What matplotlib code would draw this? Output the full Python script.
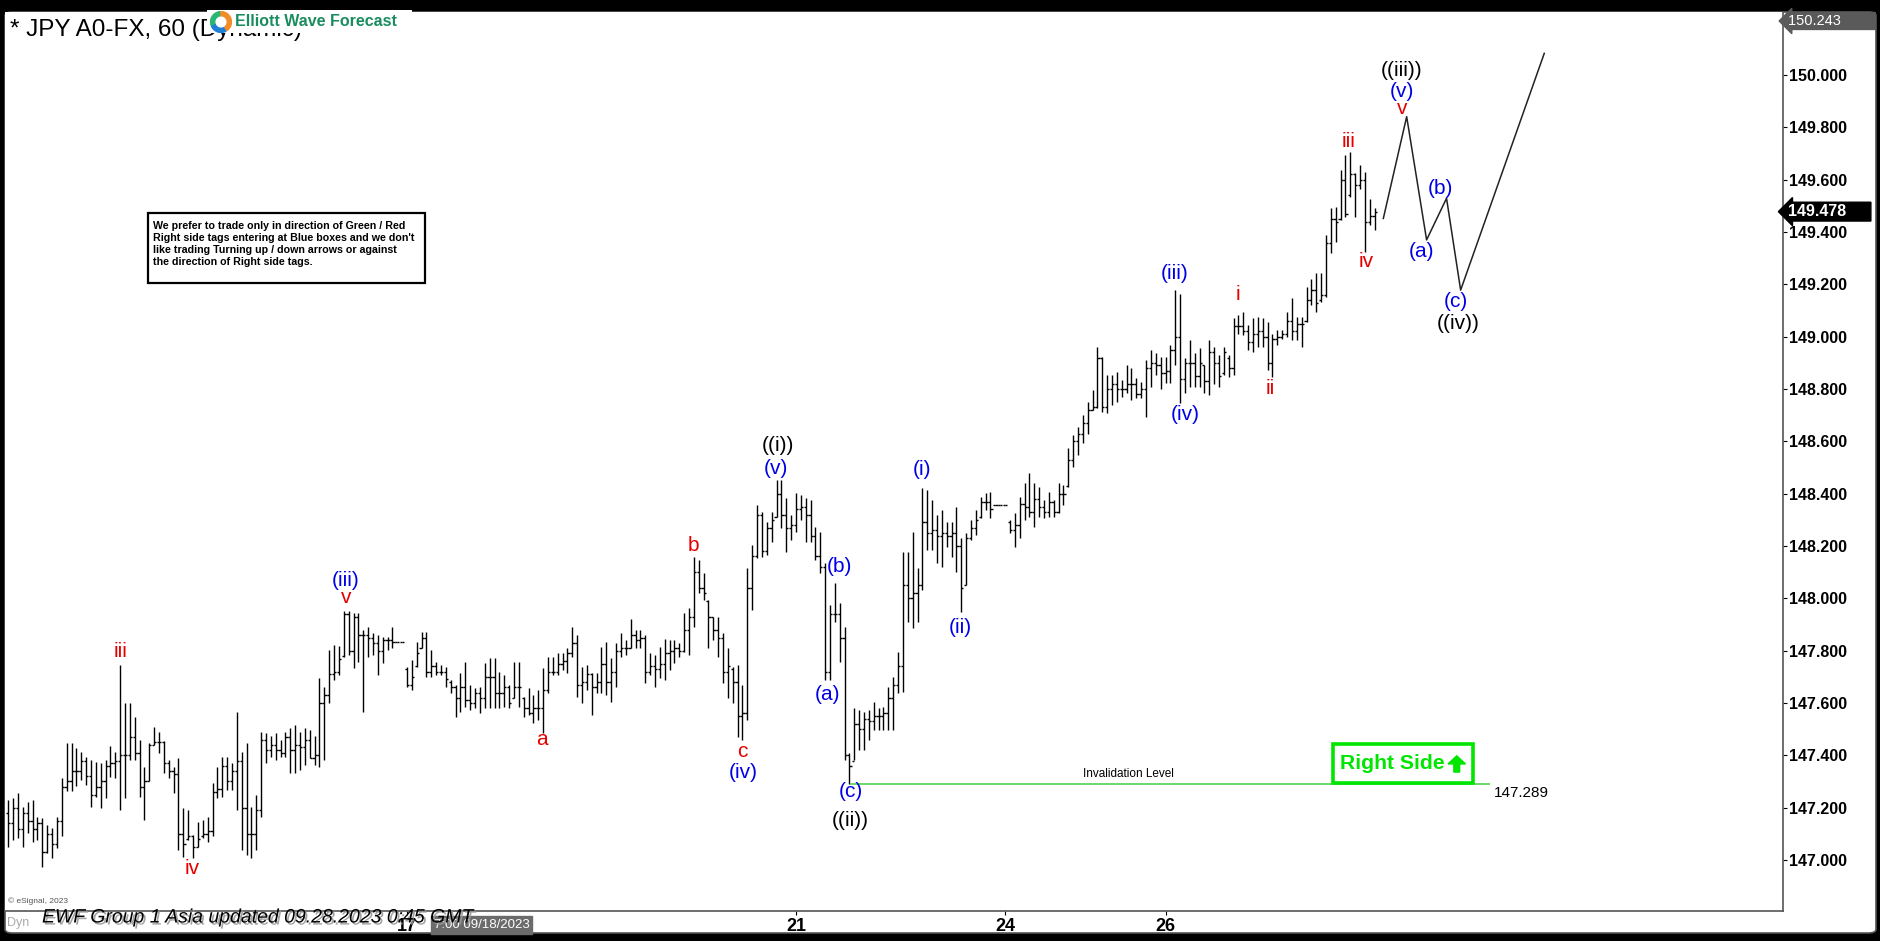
import matplotlib
matplotlib.use("Agg")
import matplotlib.pyplot as plt
from matplotlib.patches import Rectangle, FancyBboxPatch, FancyArrow, Wedge
import matplotlib.patheffects as pe

plt.rcParams['font.family'] = ['Liberation Sans', 'DejaVu Sans']

# hourly OHLC bars (bar index 0 .. 281)
highs = [
    147.230, 147.236, 147.255, 147.204, 147.223, 147.230, 147.166, 147.160, 147.134, 147.121,
    147.166, 147.313, 147.446, 147.446, 147.427, 147.411, 147.395, 147.383, 147.376, 147.370,
    147.383, 147.434, 147.414, 147.746, 147.599, 147.599, 147.548, 147.459, 147.357, 147.446,
    147.510, 147.491, 147.453, 147.383, 147.357, 147.389, 147.198, 147.191, 147.096, 147.147,
    147.153, 147.166, 147.296, 147.357, 147.395, 147.395, 147.370, 147.567, 147.414, 147.446,
    147.204, 147.249, 147.491, 147.485, 147.472, 147.485, 147.459, 147.491, 147.504, 147.516,
    147.491, 147.504, 147.497, 147.472, 147.695, 147.663, 147.803, 147.822, 147.816, 147.950,
    147.950, 147.943, 147.943, 147.879, 147.892, 147.867, 147.860, 147.854, 147.854, 147.892,
    147.835, 147.835, 147.739, 147.765, 147.835, 147.873, 147.873, 147.803, 147.758, 147.746,
    147.739, 147.688, 147.669, 147.714, 147.758, 147.669, 147.657, 147.663, 147.752, 147.771,
    147.771, 147.720, 147.707, 147.669, 147.758, 147.758, 147.624, 147.656, 147.631, 147.650,
    147.732, 147.777, 147.777, 147.790, 147.790, 147.809, 147.892, 147.860, 147.739, 147.745,
    147.713, 147.713, 147.815, 147.834, 147.771, 147.828, 147.866, 147.841, 147.920, 147.879,
    147.879, 147.860, 147.790, 147.783, 147.815, 147.843, 147.841, 147.841, 147.831, 147.943,
    147.962, 148.159, 148.147, 148.095, 147.994, 147.930, 147.930, 147.866, 147.809, 147.739,
    147.745, 147.669, 148.115, 148.204, 148.357, 148.331, 148.293, 148.331, 148.452, 148.452,
    148.382, 148.318, 148.401, 148.395, 148.382, 148.376, 148.274, 148.255, 148.134, 147.975,
    148.057, 147.981, 147.892, 147.408, 147.580, 147.573, 147.567, 147.573, 147.605, 147.580,
    147.586, 147.662, 147.701, 147.796, 148.178, 148.178, 148.255, 148.115, 148.420, 148.414,
    148.376, 148.318, 148.338, 148.293, 148.293, 148.350, 148.229, 148.248, 148.299, 148.337,
    148.388, 148.401, 148.407, 148.357, 148.357, 148.357, 148.299, 148.325, 148.388, 148.439,
    148.478, 148.439, 148.427, 148.376, 148.407, 148.376, 148.439, 148.433, 148.573, 148.624,
    148.656, 148.700, 148.751, 148.796, 148.962, 148.923, 148.853, 148.853, 148.866, 148.834,
    148.892, 148.879, 148.841, 148.828, 148.911, 148.949, 148.936, 148.923, 148.923, 148.968,
    149.178, 149.165, 148.917, 148.987, 148.936, 148.955, 148.891, 148.987, 148.961, 148.929,
    148.961, 148.929, 149.070, 149.082, 149.095, 149.044, 149.070, 149.076, 149.070, 149.057,
    149.012, 149.025, 149.025, 149.095, 149.146, 149.076, 149.076, 149.191, 149.222, 149.242,
    149.242, 149.388, 149.490, 149.496, 149.636, 149.694, 149.707, 149.624, 149.656, 149.630,
    149.528, 149.490,
]
lows = [
    147.051, 147.077, 147.083, 147.051, 147.102, 147.070, 147.077, 146.975, 147.026, 147.007,
    147.045, 147.090, 147.262, 147.262, 147.281, 147.306, 147.287, 147.204, 147.242, 147.198,
    147.236, 147.319, 147.313, 147.191, 147.236, 147.383, 147.383, 147.242, 147.153, 147.300,
    147.440, 147.408, 147.332, 147.313, 147.255, 147.039, 147.013, 147.077, 147.007, 147.051,
    147.083, 147.070, 147.090, 147.236, 147.242, 147.268, 147.268, 147.191, 147.039, 147.020,
    147.007, 147.039, 147.166, 147.370, 147.395, 147.383, 147.395, 147.395, 147.332, 147.332,
    147.344, 147.364, 147.389, 147.364, 147.357, 147.383, 147.599, 147.688, 147.707, 147.777,
    147.784, 147.733, 147.758, 147.567, 147.777, 147.784, 147.707, 147.752, 147.803, 147.809,
    147.835, 147.835, 147.663, 147.650, 147.739, 147.809, 147.701, 147.701, 147.707, 147.707,
    147.663, 147.637, 147.548, 147.567, 147.586, 147.574, 147.580, 147.561, 147.580, 147.580,
    147.580, 147.580, 147.586, 147.580, 147.618, 147.586, 147.548, 147.554, 147.522, 147.535,
    147.484, 147.637, 147.707, 147.707, 147.726, 147.713, 147.777, 147.624, 147.599, 147.650,
    147.554, 147.637, 147.637, 147.631, 147.605, 147.662, 147.777, 147.783, 147.809, 147.809,
    147.809, 147.675, 147.707, 147.662, 147.694, 147.688, 147.726, 147.752, 147.777, 147.796,
    147.783, 147.892, 148.019, 147.994, 147.809, 147.841, 147.777, 147.675, 147.618, 147.599,
    147.471, 147.459, 147.535, 147.955, 148.153, 148.159, 148.166, 148.217, 148.312, 148.268,
    148.178, 148.223, 148.255, 148.299, 148.217, 148.217, 148.146, 148.095, 147.688, 147.688,
    147.911, 147.758, 147.382, 147.289, 147.382, 147.420, 147.420, 147.459, 147.497, 147.497,
    147.497, 147.497, 147.497, 147.637, 147.643, 147.911, 147.885, 147.911, 148.032, 148.185,
    148.185, 148.134, 148.121, 148.197, 148.159, 148.102, 147.949, 148.051, 148.223, 148.242,
    148.306, 148.337, 148.306, 148.357, 148.357, 148.357, 148.248, 148.197, 148.229, 148.299,
    148.312, 148.274, 148.312, 148.306, 148.312, 148.312, 148.325, 148.357, 148.427, 148.503,
    148.548, 148.592, 148.630, 148.720, 148.726, 148.713, 148.707, 148.739, 148.751, 148.771,
    148.783, 148.758, 148.764, 148.764, 148.694, 148.809, 148.853, 148.802, 148.822, 148.822,
    148.892, 148.745, 148.783, 148.808, 148.808, 148.808, 148.783, 148.777, 148.821, 148.808,
    148.853, 148.847, 148.853, 149.012, 149.006, 148.949, 148.942, 148.961, 148.961, 148.872,
    148.847, 148.968, 148.993, 149.000, 148.987, 148.987, 148.961, 149.057, 149.121, 149.095,
    149.133, 149.152, 149.318, 149.363, 149.445, 149.458, 149.535, 149.458, 149.566, 149.324,
    149.426, 149.407,
]
opens = [
    147.18, 147.14, 147.20, 147.12, 147.18, 147.15, 147.12, 147.14, 147.03, 147.10,
    147.06, 147.15, 147.28, 147.30, 147.34, 147.34, 147.38, 147.32, 147.25, 147.28,
    147.30, 147.36, 147.37, 147.38, 147.40, 147.40, 147.47, 147.41, 147.28, 147.30,
    147.44, 147.45, 147.45, 147.37, 147.34, 147.33, 147.10, 147.08, 147.09, 147.05,
    147.09, 147.10, 147.11, 147.26, 147.27, 147.36, 147.30, 147.34, 147.38, 147.20,
    147.10, 147.10, 147.19, 147.46, 147.42, 147.44, 147.42, 147.41, 147.47, 147.42,
    147.44, 147.43, 147.46, 147.39, 147.40, 147.60, 147.63, 147.71, 147.72, 147.78,
    147.94, 147.80, 147.93, 147.86, 147.86, 147.85, 147.83, 147.80, 147.84, 147.84,
    147.835, 147.835, 147.73, 147.67, 147.74, 147.81, 147.85, 147.72, 147.74, 147.72,
    147.72, 147.68, 147.66, 147.62, 147.66, 147.61, 147.60, 147.64, 147.62, 147.70,
    147.70, 147.64, 147.64, 147.66, 147.62, 147.66, 147.62, 147.58, 147.56, 147.58,
    147.58, 147.65, 147.72, 147.72, 147.75, 147.76, 147.79, 147.83, 147.67, 147.68,
    147.71, 147.66, 147.68, 147.75, 147.68, 147.72, 147.80, 147.81, 147.81, 147.86,
    147.84, 147.85, 147.72, 147.74, 147.73, 147.75, 147.79, 147.80, 147.81, 147.80,
    147.88, 147.93, 148.10, 148.04, 147.99, 147.93, 147.88, 147.85, 147.72, 147.73,
    147.68, 147.55, 147.56, 148.04, 148.16, 148.32, 148.18, 148.27, 148.31, 148.40,
    148.32, 148.27, 148.28, 148.34, 148.35, 148.32, 148.24, 148.16, 148.12, 147.72,
    147.94, 147.94, 147.85, 147.40, 147.38, 147.52, 147.50, 147.54, 147.53, 147.55,
    147.55, 147.56, 147.62, 147.67, 147.74, 148.05, 148.00, 148.02, 148.05, 148.29,
    148.25, 148.26, 148.24, 148.25, 148.24, 148.25, 148.20, 148.05, 148.23, 148.27,
    148.31, 148.37, 148.37, 148.357, 148.357, 148.357, 148.29, 148.26, 148.28, 148.36,
    148.35, 148.33, 148.38, 148.35, 148.33, 148.37, 148.33, 148.40, 148.43, 148.53,
    148.60, 148.63, 148.67, 148.72, 148.73, 148.92, 148.73, 148.80, 148.82, 148.80,
    148.80, 148.82, 148.82, 148.78, 148.80, 148.88, 148.90, 148.89, 148.86, 148.87,
    148.95, 149.00, 148.84, 148.90, 148.90, 148.85, 148.89, 148.83, 148.94, 148.90,
    148.86, 148.92, 148.88, 149.04, 149.04, 149.02, 148.98, 149.01, 149.02, 149.00,
    148.90, 148.99, 149.00, 149.01, 149.06, 149.02, 149.05, 149.06, 149.14, 149.18,
    149.14, 149.16, 149.36, 149.45, 149.45, 149.60, 149.54, 149.62, 149.58, 149.60,
    149.44, 149.46,
]
closes = [
    147.14, 147.20, 147.12, 147.18, 147.15, 147.12, 147.14, 147.03, 147.10, 147.06,
    147.15, 147.28, 147.30, 147.34, 147.34, 147.38, 147.32, 147.25, 147.28, 147.30,
    147.36, 147.37, 147.38, 147.40, 147.40, 147.47, 147.41, 147.28, 147.30, 147.44,
    147.45, 147.45, 147.37, 147.34, 147.33, 147.10, 147.06, 147.09, 147.05, 147.08,
    147.10, 147.11, 147.26, 147.27, 147.36, 147.30, 147.34, 147.38, 147.20, 147.10,
    147.10, 147.19, 147.46, 147.42, 147.44, 147.42, 147.41, 147.47, 147.42, 147.44,
    147.43, 147.46, 147.39, 147.40, 147.60, 147.63, 147.71, 147.72, 147.77, 147.94,
    147.80, 147.93, 147.86, 147.86, 147.85, 147.83, 147.80, 147.84, 147.84, 147.835,
    147.835, 147.835, 147.67, 147.70, 147.79, 147.85, 147.72, 147.74, 147.72, 147.72,
    147.69, 147.66, 147.62, 147.66, 147.61, 147.60, 147.64, 147.62, 147.70, 147.70,
    147.64, 147.64, 147.66, 147.60, 147.66, 147.66, 147.58, 147.56, 147.58, 147.58,
    147.65, 147.72, 147.72, 147.75, 147.76, 147.79, 147.83, 147.67, 147.68, 147.71,
    147.66, 147.68, 147.75, 147.68, 147.72, 147.80, 147.81, 147.81, 147.86, 147.84,
    147.85, 147.72, 147.74, 147.73, 147.75, 147.79, 147.80, 147.81, 147.80, 147.88,
    147.93, 148.10, 148.04, 148.02, 147.93, 147.88, 147.85, 147.72, 147.74, 147.68,
    147.55, 147.56, 148.04, 148.16, 148.32, 148.18, 148.27, 148.30, 148.40, 148.32,
    148.27, 148.28, 148.34, 148.35, 148.32, 148.24, 148.16, 148.12, 147.72, 147.94,
    147.94, 147.85, 147.40, 147.36, 147.52, 147.50, 147.54, 147.53, 147.55, 147.55,
    147.56, 147.62, 147.67, 147.74, 148.05, 148.00, 148.02, 148.05, 148.29, 148.25,
    148.26, 148.24, 148.25, 148.24, 148.25, 148.20, 148.04, 148.23, 148.27, 148.30,
    148.37, 148.37, 148.34, 148.357, 148.357, 148.357, 148.26, 148.28, 148.36, 148.35,
    148.33, 148.38, 148.35, 148.33, 148.37, 148.33, 148.40, 148.40, 148.53, 148.60,
    148.63, 148.67, 148.72, 148.73, 148.92, 148.73, 148.80, 148.82, 148.80, 148.80,
    148.82, 148.82, 148.78, 148.80, 148.88, 148.90, 148.89, 148.86, 148.87, 148.95,
    149.00, 148.84, 148.90, 148.90, 148.85, 148.90, 148.83, 148.94, 148.90, 148.85,
    148.94, 148.88, 149.04, 149.04, 149.02, 148.98, 149.01, 149.02, 149.00, 148.90,
    148.99, 149.00, 149.01, 149.06, 149.02, 149.05, 149.05, 149.14, 149.18, 149.13,
    149.16, 149.36, 149.45, 149.44, 149.60, 149.47, 149.62, 149.58, 149.60, 149.44,
    149.46, 149.478,
]

date_ticks = [82, 162, 205, 238]
date_labels = ['17', '21', '24', '26']
price_ticks = [147.0, 147.2, 147.4, 147.6, 147.8, 148.0, 148.2, 148.4,
               148.6, 148.8, 149.0, 149.2, 149.4, 149.6, 149.8, 150.0, 150.2]

RED, BLUE, BLACK = '#e60000', '#0000e6', 'black'
# wave labels: text, bar position, price, colour
wave_labels = [
    ('iii', 23.0, 147.795, RED), ('iv', 37.8, 146.966, RED),
    ('(iii)', 69.4, 148.067, BLUE), ('v', 69.4, 148.002, RED),
    ('a', 109.8, 147.459, RED), ('b', 141.0, 148.201, RED),
    ('c', 150.9, 147.414, RED), ('(iv)', 151.2, 147.335, BLUE),
    ('((i))', 158.2, 148.586, BLACK), ('(v)', 157.9, 148.497, BLUE),
    ('(b)', 170.9, 148.121, BLUE), ('(a)', 168.5, 147.634, BLUE),
    ('(c)', 173.3, 147.262, BLUE), ('((ii))', 173.1, 147.150, BLACK),
    ('(i)', 188.0, 148.491, BLUE), ('(ii)', 195.9, 147.890, BLUE),
    ('(iii)', 239.8, 149.242, BLUE), ('(iv)', 242.0, 148.701, BLUE),
    ('i', 252.8, 149.162, RED), ('ii', 259.5, 148.803, RED),
    ('iii', 275.6, 149.745, RED), ('iv', 279.2, 149.287, RED),
    ('((iii))', 286.6, 150.019, BLACK), ('(v)', 286.6, 149.936, BLUE),
    ('v', 286.6, 149.873, RED), ('(a)', 290.7, 149.325, BLUE),
    ('(b)', 294.5, 149.567, BLUE), ('(c)', 297.7, 149.134, BLUE),
    ('((iv))', 298.2, 149.051, BLACK),
]

# projected path
proj_bars = [282.8, 287.6, 291.7, 295.8, 298.7, 315.9]
proj_prices = [149.452, 149.841, 149.370, 149.529, 149.178, 150.083]

invalidation = 147.289
last_price = 149.478
top_price = 150.243

W, H = 1881, 941


def fx(px):
    return px / W


def fy(py):
    return 1 - py / H


fig = plt.figure(figsize=(W / 100, H / 100), dpi=100, facecolor='black')
fig.patches.append(FancyBboxPatch((fx(5), fy(933)), fx(1871), 921 / H,
                                  boxstyle='round,pad=0,rounding_size=0.004',
                                  transform=fig.transFigure, fc='white',
                                  ec='#555555', lw=1.2, zorder=-1))

ax = fig.add_axes([fx(5), fy(911), fx(1778), 899 / H])
ax.set_facecolor('white')
x = list(range(len(highs)))
ax.vlines(x, lows, highs, color='black', lw=1.0)
ax.hlines(opens, [i - 0.45 for i in x], x, color='black', lw=1.0)
ax.hlines(closes, x, [i + 0.45 for i in x], color='black', lw=1.0)

ax.plot(proj_bars, proj_prices, color='#222222', lw=1.1)

# invalidation level
ax.hlines(invalidation, 173.1, 304.7, color='#5fd65f', lw=1.3)
ax.text(230.3, 147.329, 'Invalidation Level', fontsize=8.5, ha='center', va='center')
ax.text(305.6, 147.256, f'{invalidation:.3f}', fontsize=11, ha='left', va='center')

for txt, bx, py, col in wave_labels:
    ax.text(bx, py, txt, color=col, fontsize=15, ha='center', va='center')

# Right Side tag
ax.add_patch(Rectangle((272.5, 147.295), 28.7, 0.149, fill=False,
                       ec='#00e600', lw=2.6, zorder=5))
ax.text(273.9, 147.370, 'Right Side', color='#00e600', fontsize=15.2,
        fontweight='bold', ha='left', va='center', zorder=5)
ax.add_patch(FancyArrow(297.9, 147.336, 0, 0.062, width=1.2, head_width=3.6,
                        head_length=0.031, length_includes_head=True,
                        color='#00e600', zorder=5))

ax.set_xlim(-0.68, 365.0)
ax.set_ylim(146.805, 150.241)

ax.yaxis.tick_right()
ax.set_yticks(price_ticks)
ax.set_yticklabels(['%.3f' % p for p in price_ticks], fontweight='bold', fontsize=11.5)
ax.tick_params(axis='y', direction='out', length=3, width=0.8, pad=1.5, colors='black')
ax.set_xticks(date_ticks)
ax.set_xticklabels(date_labels, fontweight='bold', fontsize=13,
                   family=['Liberation Sans Narrow', 'Liberation Sans'])
ax.tick_params(axis='x', direction='out', length=3, width=0.8, pad=2)
for side in ['top', 'left']:
    ax.spines[side].set_visible(False)
for side in ['right', 'bottom']:
    ax.spines[side].set_color('#555555')
    ax.spines[side].set_linewidth(1.2)

# last price and top price tags
ax.text(1.003, last_price, f'{last_price:.3f}     ', transform=ax.get_yaxis_transform(),
        color='white', fontsize=11.5, fontweight='bold', ha='left', va='center',
        bbox=dict(boxstyle='larrow,pad=0.12', fc='black', ec='black'), clip_on=False, zorder=10)
fig.text(fx(1788), fy(21), f'{top_price:.3f}        ', color='white', fontsize=10.5,
         ha='left', va='center',
         bbox=dict(boxstyle='larrow,pad=0.1', fc='#5a5a5a', ec='#5a5a5a'), zorder=10)

# note box
fig.patches.append(Rectangle((fx(148), fy(283)), fx(277), 70 / H, transform=fig.transFigure,
                             fc='white', ec='black', lw=1.6, zorder=3))
fig.text(fx(153), fy(244), "We prefer to trade only in direction of Green / Red\n"
         "Right side tags entering at Blue boxes and we don't\n"
         "like trading Turning up / down arrows or against\n"
         "the direction of Right side tags.",
         fontsize=7.7, fontweight='bold', ha='left', va='center', linespacing=1.22, zorder=4)

# title and logo
fig.text(fx(10), fy(30), '* JPY A0-FX, 60 (Dynamic)', fontsize=17.5, ha='left', va='center',
         zorder=2)
fig.patches.append(Rectangle((fx(207), fy(33)), fx(205), 23 / H, transform=fig.transFigure,
                             fc='white', ec='none', zorder=3.5))
fig.text(fx(235), fy(22), 'Elliott Wave Forecast', color='#1a8c5f', fontsize=11.5,
         fontweight='bold', ha='left', va='center', zorder=4)
lax = fig.add_axes([fx(210), fy(33), fx(22), 22 / H])
lax.set_zorder(5)
lax.set_xlim(-1, 1)
lax.set_ylim(-1, 1)
lax.set_aspect('equal')
lax.axis('off')
lax.add_patch(Wedge((0, 0), 0.95, 95, 200, width=0.38, color='#2bb673'))
lax.add_patch(Wedge((0, 0), 0.95, 205, 300, width=0.38, color='#1e7fd6'))
lax.add_patch(Wedge((0, 0), 0.95, 305, 450, width=0.38, color='#f28c28'))

# footer
fig.text(fx(8), fy(901), '\u00a9 eSignal, 2023', fontsize=6, color='#555555', ha='left', va='center')
fig.text(fx(7), fy(923), 'Dyn', fontsize=9, color='#aaaaaa', ha='left', va='center')
fig.text(fx(42), fy(918), 'EWF Group 1 Asia updated 09.28.2023 0:45 GMT', fontsize=14,
         style='italic', ha='left', va='center', zorder=6,
         path_effects=[pe.SimplePatchShadow(offset=(1.5, -1.5), shadow_rgbFace='#999999', alpha=0.9),
                       pe.Normal()])
fig.text(fx(434), fy(925), '7:00 09/18/2023', fontsize=9.5, color='white', ha='left', va='center',
         bbox=dict(boxstyle='square,pad=0.2', fc='#6b6b6b', ec='#6b6b6b'), zorder=5)

plt.savefig('out.png', dpi=100, facecolor=fig.get_facecolor())
